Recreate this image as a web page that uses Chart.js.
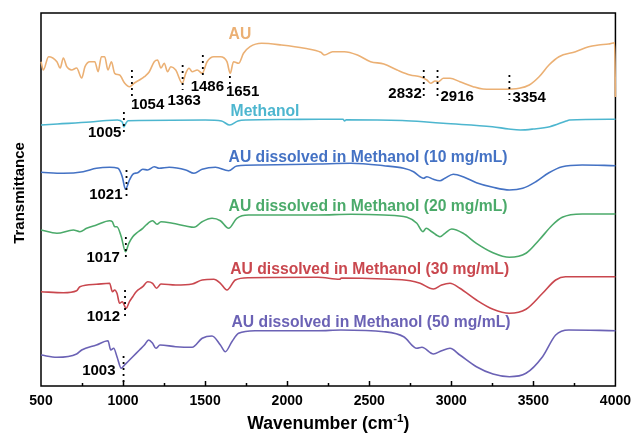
<!DOCTYPE html>
<html>
<head>
<meta charset="utf-8">
<script src="https://cdn.jsdelivr.net/npm/chart.js@4.4.1/dist/chart.umd.min.js"></script>
<style>
  html, body { margin: 0; padding: 0; background: #fff; }
  #wrap { width: 638px; height: 433px; }
</style>
</head>
<body>
<div id="wrap"><canvas id="c" width="638" height="433"></canvas></div>
<script>
// FTIR spectra: wavenumber (cm-1) and transmittance (a.u., each trace relative to its own minimum)
const auWn = [500,514,546,597,617,636,657,687,717,748,768,798,828,848,868,888,908,929,949,979,1009,1039,1069,1100,1130,1160,1190,1210,1231,1251,1271,1291,1321,1361,1382,1402,1421,1452,1482,1512,1553,1593,1633,1653,1673,1704,1734,1774,1844,1965,2106,2205,2227,2277,2348,2428,2508,2589,2670,2750,2810,2851,2875,2901,2921,2952,2992,3052,3133,3193,3314,3414,3475,3535,3595,3656,3757,3837,3897,3958,3995,4000];
const auT  = [28.3,20,33.3,28.3,22,32,23.3,20,22,12,23.3,28.3,28.3,18.3,33.3,33.3,20,28.3,16.7,15,7,3.3,7,10,13.3,18.3,28.3,30,22,26.7,18.3,23.3,20,6.7,16.7,21.7,18.3,20,16.7,28.3,33.3,33.3,28.3,16.7,28.3,26.7,36.7,43.3,46.7,45,41.7,37.7,35,38.3,38.3,35,28.3,26,20,15,13.3,10,6.7,9,8.3,11.7,11.7,8.3,3.3,1,0.7,1.7,5,13.3,25,33.3,38.3,43.3,45,46,47.3,-7];

const methWn = [500,600,800,900,965,995,1005,1015,1030,1100,1500,1600,1650,1700,1750,2000,2200,2340,2350,2360,2700,2850,2950,3250,3350,3420,3500,3600,3700,3720,4000];
const methT  = [6,7,9,10.5,11,9,4,7,10.3,10.5,11,10,6,10,11,11.5,11.7,11.7,10,11.3,10.5,9,7.7,4.3,2,1,2,4.3,10,11,11.7];

const m10Wn = [500,636,757,838,918,969,995,1015,1039,1059,1089,1120,1150,1190,1220,1281,1382,1432,1482,1563,1643,1693,1844,2187,2388,2589,2710,2770,2810,2831,2851,2891,2931,2961,3012,3072,3153,3254,3354,3435,3515,3595,3676,3797,4000];
const m10T  = [18.7,17.7,19.3,22.7,23.7,22.7,14.3,1.7,11,16.7,18.3,21.7,21,24.3,22.7,23.7,21,17.7,21.7,23.7,20.3,25,26,27,27.7,25.3,22.7,19.3,14.3,12.7,14.3,11.7,10.3,12.7,16.7,14.3,8.3,3.7,1,2.7,9.3,18.3,24.3,26,25.3];

const m20Wn = [500,597,697,737,778,838,918,935,949,963,989,1015,1035,1059,1080,1120,1140,1180,1207,1231,1301,1382,1432,1482,1542,1593,1643,1693,1764,2187,2388,2589,2730,2790,2827,2847,2881,2931,2961,3002,3072,3153,3254,3354,3455,3535,3616,3676,3797,4000];
const m20T  = [28,24.7,28,26.3,29.7,33,37.3,36.3,31.3,31.3,21.3,6.3,14.7,21.3,24.7,29.7,33,37.3,33.7,36.3,34.7,32,30.7,36.3,39.7,37.3,29.7,39.7,43,43,43.7,43,40.7,34.7,26.3,29.7,26.3,21.3,24.7,29,24.7,14.7,5.3,0.7,4.7,18,33,40.7,44,44];

const m30Wn = [500,636,717,737,838,918,935,949,963,979,995,1019,1039,1059,1080,1120,1150,1180,1204,1231,1321,1421,1482,1553,1593,1633,1684,1764,2187,2320,2330,2589,2750,2810,2891,2941,2992,3052,3153,3254,3354,3455,3556,3636,3696,4000];
const m30T  = [22.3,21.3,23.3,27.3,29.7,30.7,22.3,24,20.7,10.7,12.3,5.7,12.3,17.3,22.3,27.3,32.3,30.7,25.7,30,29,30,34,34.7,30.7,24,34,36.3,36.7,34.8,36,35,33.3,30.7,25,29,30.7,25.7,14,4.7,0.7,4.7,20.7,34,37.3,37.3];

const m50Wn = [500,597,717,748,838,908,925,943,963,989,1009,1029,1059,1100,1130,1156,1180,1200,1225,1321,1421,1482,1542,1593,1623,1663,1704,1804,2187,2327,2589,2710,2790,2821,2891,2941,2992,3052,3153,3254,3354,3455,3556,3636,3716,4000];
const m50T  = [22,19.7,23,27,32,36.3,27,28.7,20.3,8.7,12,15.3,20.3,27,32,37,33.7,28.7,32,30.3,29.7,38.7,41,32,25.3,35.3,43.7,46.3,46.3,47,45.3,40.3,28.7,29.7,23,26.3,28.7,22,10.3,3,0.3,3.7,20.3,42,47,46.3];

// vertical stacking offsets of the traces (a.u.)
const offsets = [296, 255, 195, 128, 72, 9];

const seriesNames = [
  'AU',
  'Methanol',
  'AU dissolved in Methanol (10 mg/mL)',
  'AU dissolved in Methanol (20 mg/mL)',
  'AU dissolved in Methanol (30 mg/mL)',
  'AU dissolved in Methanol (50 mg/mL)'
];

// assigned band positions (cm-1) and the trace they belong to
const peakWn     = [1054, 1363, 1486, 1651, 2832, 2916, 3354, 1005, 1021, 1017, 1012, 1003];
const peakSeries = [0, 0, 0, 0, 0, 0, 0, 1, 2, 3, 4, 5];

const xTicks = [500, 1000, 1500, 2000, 2500, 3000, 3500, 4000];

// ---- drawing ----
const FONT = '"Liberation Sans", Arial, Helvetica, sans-serif';
const colors = ['#EBB074', '#4DB6CF', '#4472C4', '#4BAA6A', '#C9474E', '#6B62B5'];
const wns = [auWn, methWn, m10Wn, m20Wn, m30Wn, m50Wn];
const ts  = [auT, methT, m10T, m20T, m30T, m50T];

const datasets = wns.map((w, i) => ({
  label: seriesNames[i],
  data: w.map((x, k) => ({ x: x, y: ts[i][k] + offsets[i] })),
  borderColor: colors[i],
  borderWidth: 1.6,
  pointRadius: 0,
  fill: false,
  cubicInterpolationMode: 'monotone',
  clip: 3
}));

// marker extents / label placement, relative to each trace
const peakLayout = [
  { top: 20, bottom: -9,  align: 'left',   dx: -1,   ly: -15 },
  { top: 25, bottom: 0,   align: 'center', dx: 1.5,  ly: -11 },
  { top: 35, bottom: 14,  align: 'center', dx: 4.5,  ly: 3 },
  { top: 14, bottom: 4,   align: 'left',   dx: -4,   ly: -2 },
  { top: 20, bottom: -6,  align: 'right',  dx: -2,   ly: -4 },
  { top: 20, bottom: -6,  align: 'left',   dx: 3,    ly: -7 },
  { top: 15, bottom: -10, align: 'left',   dx: 3,    ly: -8 },
  { top: 19, bottom: -5,  align: 'right',  dx: -2.5, ly: -2 },
  { top: 21, bottom: -6,  align: 'right',  dx: -4,   ly: -4 },
  { top: 21, bottom: -2,  align: 'right',  dx: -6,   ly: 0 },
  { top: 24, bottom: -4,  align: 'right',  dx: -5,   ly: -2.7 },
  { top: 21, bottom: -5,  align: 'right',  dx: -8,   ly: 6.3 }
];
const nameLayout = [
  { wn: 1643, ly: 55 },
  { wn: 1655, ly: 19.3 },
  { wn: 1643, ly: 33.7 },
  { wn: 1643, ly: 51.3 },
  { wn: 1653, ly: 44 },
  { wn: 1661, ly: 54.3 }
];

const decor = {
  id: 'decor',
  beforeDatasetsDraw(chart) {
    const { ctx, chartArea: a } = chart;
    ctx.save();
    ctx.strokeStyle = '#000';
    ctx.lineWidth = 1.5;
    ctx.strokeRect(a.left, a.top, a.right - a.left, a.bottom - a.top);
    ctx.restore();
  },
  afterDraw(chart) {
    const { ctx, chartArea: a } = chart;
    const xs = chart.scales.x, ys = chart.scales.y;
    ctx.save();
    // inward tick marks on the wavenumber axis
    ctx.strokeStyle = '#000';
    ctx.lineWidth = 1.5;
    for (let v = 750; v < 4000; v += 250) {
      const px = Math.round(xs.getPixelForValue(v)) + 0.5;
      const len = (v % 500 === 0) ? 5 : 3;
      ctx.beginPath();
      ctx.moveTo(px, a.bottom);
      ctx.lineTo(px, a.bottom - len);
      ctx.stroke();
    }
    // band markers and their labels
    ctx.font = 'bold 15px ' + FONT;
    ctx.textBaseline = 'middle';
    ctx.fillStyle = '#000';
    peakWn.forEach((wn, i) => {
      const L = peakLayout[i];
      const off = offsets[peakSeries[i]];
      const px = xs.getPixelForValue(wn);
      ctx.save();
      ctx.setLineDash([2, 4]);
      ctx.lineWidth = 1.8;
      ctx.beginPath();
      ctx.moveTo(px, ys.getPixelForValue(off + L.top));
      ctx.lineTo(px, ys.getPixelForValue(off + L.bottom));
      ctx.stroke();
      ctx.restore();
      ctx.textAlign = L.align;
      ctx.fillText(String(wn), px + L.dx, ys.getPixelForValue(off + L.ly));
    });
    // trace names
    ctx.textAlign = 'left';
    ctx.font = 'bold 15.7px ' + FONT;
    seriesNames.forEach((name, i) => {
      const N = nameLayout[i];
      ctx.fillStyle = colors[i];
      ctx.fillText(name, xs.getPixelForValue(N.wn), ys.getPixelForValue(offsets[i] + N.ly));
    });
    // axis titles
    ctx.fillStyle = '#000';
    ctx.textBaseline = 'alphabetic';
    const main = 'Wavenumber (cm', sup = '-1', tail = ')';
    const big = 'bold 17.6px ' + FONT, small = 'bold 11.5px ' + FONT;
    ctx.font = big;
    const w1 = ctx.measureText(main).width, w3 = ctx.measureText(tail).width;
    ctx.font = small;
    const w2 = ctx.measureText(sup).width;
    const cx = (a.left + a.right) / 2;
    const x0 = cx - (w1 + w2 + w3) / 2;
    const by = a.bottom + 43;
    ctx.textAlign = 'left';
    ctx.font = big;
    ctx.fillText(main, x0, by);
    ctx.font = small;
    ctx.fillText(sup, x0 + w1, by - 7);
    ctx.font = big;
    ctx.fillText(tail, x0 + w1 + w2, by);

    ctx.save();
    ctx.translate(a.left - 17, a.top + 180);
    ctx.rotate(-Math.PI / 2);
    ctx.textAlign = 'center';
    ctx.font = 'bold 15px ' + FONT;
    ctx.fillText('Transmittance', 0, 0);
    ctx.restore();
    ctx.restore();
  }
};

new Chart(document.getElementById('c'), {
  type: 'line',
  data: { datasets: datasets },
  options: {
    responsive: false,
    animation: false,
    devicePixelRatio: 1,
    layout: { padding: { left: 41, right: 18, top: 13, bottom: 17 } },
    plugins: { legend: { display: false }, tooltip: { enabled: false } },
    scales: {
      x: {
        type: 'linear',
        min: 500,
        max: 4000,
        afterBuildTicks: s => { s.ticks = xTicks.map(v => ({ value: v })); },
        afterFit: s => { s.height = 30; },
        ticks: {
          color: '#000',
          padding: 7,
          maxRotation: 0,
          autoSkip: false,
          callback: v => String(v),
          font: { family: FONT, size: 14, weight: 'bold' }
        },
        grid: { display: false, drawTicks: false },
        border: { display: false }
      },
      y: { display: false, min: 0, max: 373 }
    }
  },
  plugins: [decor]
});
</script>
</body>
</html>
